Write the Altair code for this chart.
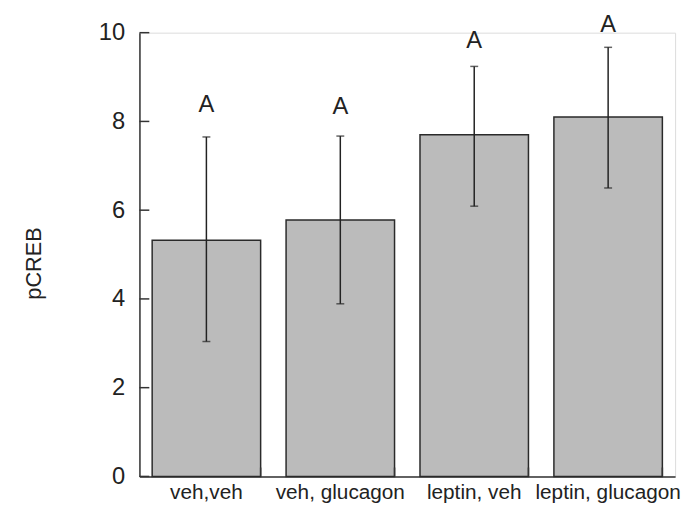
import altair as alt
import pandas as pd

categories = ["veh,veh", "veh, glucagon", "leptin, veh", "leptin, glucagon"]
means = [5.32, 5.78, 7.70, 8.10]
err_hi = [7.65, 7.67, 9.24, 9.67]
err_lo = [3.04, 3.89, 6.09, 6.50]
letters = ["A", "A", "A", "A"]
letter_y = [8.36, 8.33, 9.82, 10.18]
y_ticks = [0, 2, 4, 6, 8, 10]

FONT = "Liberation Sans"
INK = "#222222"

df = pd.DataFrame({
    "cat": categories,
    "mean": means,
    "hi": err_hi,
    "lo": err_lo,
    "letter": letters,
    "ly": letter_y,
})
ticks_df = pd.DataFrame({"v": y_ticks})

xs = alt.Scale(paddingInner=0.19, paddingOuter=0.095)
ys = alt.Scale(domain=[0, 10], nice=False)

x_enc = alt.X(
    "cat:N", sort=categories, scale=xs,
    axis=alt.Axis(title=None, labelAngle=0, ticks=False, domain=True,
                  domainColor="#333333", domainWidth=1.5,
                  labelFont=FONT, labelFontSize=21, labelColor=INK,
                  labelPadding=5),
)
y_axis = alt.Axis(
    title="pCREB", values=y_ticks, grid=False, ticks=False, domain=True,
    domainColor="#333333", domainWidth=1.5,
    labelFont=FONT, labelFontSize=24, labelColor=INK, labelPadding=15,
    titleFont=FONT, titleFontSize=22, titleFontWeight="normal", titleColor=INK,
    titleX=-107, titleY=233, titleAlign="center", titleBaseline="middle",
)

base = alt.Chart(df)

bars = base.mark_bar(fill="#bbbbbb", stroke="#2a2a2a", strokeWidth=1.5).encode(
    x=x_enc,
    y=alt.Y("mean:Q", scale=ys, axis=y_axis),
)
err = base.mark_rule(color=INK, strokeWidth=1.5).encode(
    x=alt.X("cat:N", sort=categories),
    y="lo:Q", y2="hi:Q",
)
cap_hi = base.mark_tick(color=INK, orient="horizontal", size=8, thickness=1.5).encode(
    x=alt.X("cat:N", sort=categories), y="hi:Q",
)
cap_lo = base.mark_tick(color=INK, orient="horizontal", size=8, thickness=1.5).encode(
    x=alt.X("cat:N", sort=categories), y="lo:Q",
)
txt = base.mark_text(font=FONT, fontSize=24, color=INK, baseline="middle").encode(
    x=alt.X("cat:N", sort=categories), y="ly:Q", text="letter:N",
)
xticks = base.mark_rule(color="#333333", strokeWidth=1.5).encode(
    x=alt.X("cat:N", sort=categories, bandPosition=1),
    y=alt.datum(0), y2=alt.datum(0.2),
)
yticks = alt.Chart(ticks_df).mark_rule(color="#333333", strokeWidth=1.5).encode(
    y="v:Q", x=alt.value(0), x2=alt.value(10),
)

chart = alt.layer(bars, err, cap_hi, cap_lo, txt, xticks, yticks).properties(
    width=542, height=449,
    padding={"left": 133, "top": 22, "right": 8, "bottom": 30},
    autosize=alt.AutoSizeParams(type="none"),
).configure_view(stroke=None).configure(background="white")

chart.save("out.html", embed_options={"renderer": "svg", "actions": False})
